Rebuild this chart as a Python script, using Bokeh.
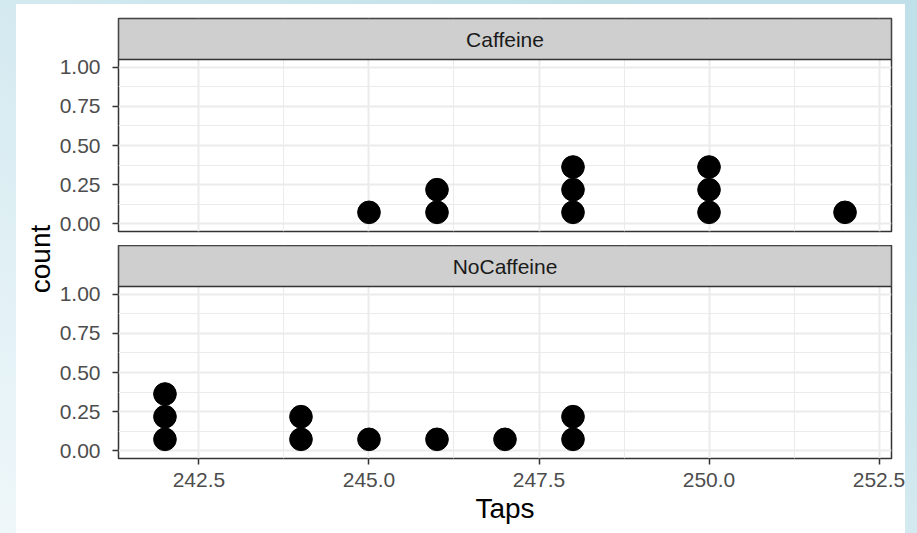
import numpy as np
from collections import Counter
from bokeh.plotting import figure
from bokeh.layouts import column, row
from bokeh.models import FixedTicker, Label, NumeralTickFormatter
from bokeh.embed import file_html
from bokeh.resources import INLINE

# ---- data ----
groups = ["Caffeine", "NoCaffeine"]
caffeine_taps = [246, 248, 250, 252, 248, 250, 246, 248, 245, 250]
nocaffeine_taps = [242, 245, 244, 248, 247, 248, 242, 244, 246, 242]
x_ticks = [242.5, 245.0, 247.5, 250.0, 252.5]
x_minor = [241.25, 243.75, 246.25, 248.75, 251.25]
y_ticks = [0.0, 0.25, 0.5, 0.75, 1.0]
y_minor = [0.125, 0.375, 0.625, 0.875]
x_title = "Taps"
y_title = "count"

# ---- geometry / style ----
FONT = "Liberation Sans"
FRAME_W = 773
FRAME_H = 172
STRIP_H = 41
GAP = 14
LEFT = 60
RIGHT = 14
LABEL_W = 40
BOTTOM = 75

all_taps = caffeine_taps + nocaffeine_taps
bw = (max(all_taps) - min(all_taps)) / 30.0
lo = min(all_taps) - bw / 2
hi = max(all_taps) + bw / 2
pad = 0.05 * (hi - lo)
xlo, xhi = lo - pad, hi + pad
ylo, yhi = -0.05, 1.05

px_x = FRAME_W / (xhi - xlo)
px_y = FRAME_H / (yhi - ylo)
diam_px = bw * px_x
ytop = yhi + STRIP_H / px_y   # top of the facet strip, in y units


def stacks(taps):
    xs, ys = [], []
    for v, n in sorted(Counter(taps).items()):
        for k in range(n):
            xs.append(v)
            ys.append((k + 0.5) * diam_px / px_y)
    return xs, ys


def panel_fig(name, taps, show_x, top_border, bottom_border):
    p = figure(frame_width=FRAME_W, frame_height=FRAME_H + STRIP_H,
               x_range=(xlo, xhi), y_range=(ylo, ytop),
               toolbar_location=None, output_backend="svg",
               x_axis_location="below" if show_x else None,
               min_border_left=LEFT, min_border_right=RIGHT,
               min_border_top=top_border, min_border_bottom=bottom_border)
    p.background_fill_color = "white"
    p.border_fill_color = "white"
    p.outline_line_color = "#333333"
    p.outline_line_width = 1.5

    for g, maj, mnr in ((p.xgrid, x_ticks, x_minor), (p.ygrid, y_ticks, y_minor)):
        g.ticker = FixedTicker(ticks=maj, minor_ticks=mnr)
        g.grid_line_color = "#EBEBEB"
        g.grid_line_width = 2
        g.minor_grid_line_color = "#EBEBEB"
        g.minor_grid_line_width = 1

    axes = [p.yaxis[0]]
    p.yaxis.ticker = FixedTicker(ticks=y_ticks, minor_ticks=y_minor)
    p.yaxis.formatter = NumeralTickFormatter(format="0.00")
    p.yaxis.major_label_standoff = 12
    if show_x:
        axes.append(p.xaxis[0])
        p.xaxis.ticker = FixedTicker(ticks=x_ticks, minor_ticks=x_minor)
        p.xaxis.formatter = NumeralTickFormatter(format="0.0")
        p.xaxis.major_label_standoff = 8
        p.xaxis.axis_label = x_title
        p.xaxis.axis_label_text_font = FONT
        p.xaxis.axis_label_text_font_size = "28px"
        p.xaxis.axis_label_text_font_style = "normal"
        p.xaxis.axis_label_text_color = "black"
        p.xaxis.axis_label_standoff = 3
    for a in axes:
        a.axis_line_color = None
        a.major_tick_line_color = "#333333"
        a.major_tick_line_width = 1.5
        a.major_tick_out = 6
        a.major_tick_in = 0
        a.minor_tick_line_color = None
        a.major_label_text_font = FONT
        a.major_label_text_font_size = "21px"
        a.major_label_text_color = "#4D4D4D"

    # facet strip (grey band above the panel)
    p.quad(left=xlo, right=xhi, bottom=yhi, top=ytop,
           fill_color="#CFCFCF", line_color="#333333", line_width=1.5)
    p.add_layout(Label(x=(xlo + xhi) / 2, y=(yhi + ytop) / 2, text=name,
                       text_align="center", text_baseline="middle",
                       text_font=FONT, text_font_size="21px", text_color="#1A1A1A"))

    xs, ys = stacks(taps)
    p.scatter(xs, ys, size=diam_px, fill_color="black", line_color="black")
    return p


p1 = panel_fig(groups[0], caffeine_taps, False, GAP, GAP)
p2 = panel_fig(groups[1], nocaffeine_taps, True, 0, BOTTOM)

total_h = 2 * (GAP + STRIP_H + FRAME_H) + BOTTOM
lf = figure(width=LABEL_W, height=total_h, x_range=(0, LABEL_W), y_range=(0, total_h),
            toolbar_location=None, output_backend="svg",
            x_axis_location=None, y_axis_location=None, min_border=0)
lf.grid.visible = False
lf.outline_line_color = None
lf.border_fill_color = "white"
lf.background_fill_color = "white"
panels_top = GAP + STRIP_H
panels_bottom = 2 * (GAP + STRIP_H + FRAME_H)
lf.add_layout(Label(x=LABEL_W / 2 + 4, y=total_h - (panels_top + panels_bottom) / 2,
                    text=y_title, angle=np.pi / 2, text_align="center", text_baseline="middle",
                    text_font=FONT, text_font_size="28px", text_color="black"))

layout = row(lf, column(p1, p2, spacing=0, styles={"background-color": "white"}),
             spacing=0, styles={"background-color": "white"})

html = file_html(layout, INLINE)
page_style = ('<style>html, body { margin: 0 !important; padding: 0 !important; overflow: hidden; } '
              'body { padding: 4px 0 0 16px !important; box-sizing: border-box; '
              'background: linear-gradient(to top right, #eff7fa 0%, #d6ebf1 45%, #bfe0e8 85%) '
              'no-repeat fixed !important; }</style>')
html = html.replace("</head>", page_style + "</head>", 1)
open("out.html", "w").write(html)
